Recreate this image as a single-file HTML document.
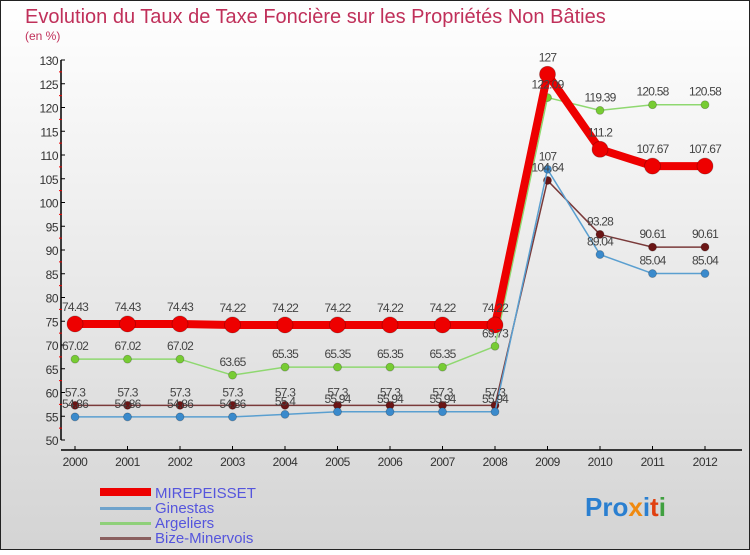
<!DOCTYPE html>
<html><head><meta charset="utf-8"><style>
html,body{margin:0;padding:0}
body{width:750px;height:550px;overflow:hidden;font-family:"Liberation Sans",sans-serif}
svg text{font-family:"Liberation Sans",sans-serif}
</style></head><body>
<svg id="chart" width="750" height="550" xmlns="http://www.w3.org/2000/svg">
<defs><linearGradient id="bg" x1="0" y1="0" x2="0" y2="1"><stop offset="0" stop-color="#ffffff"/><stop offset="1" stop-color="#d4d4d4"/></linearGradient></defs>
<rect x="0.5" y="0.5" width="749" height="549" fill="url(#bg)" stroke="#222"/>
<text x="25" y="23" font-size="20" fill="#c0305a">Evolution du Taux de Taxe Foncière sur les Propriétés Non Bâties</text>
<text x="25" y="40" font-size="12" fill="#c0305a">(en %)</text>
<g id="axes"></g><g id="series"></g><g id="labels"></g>
<g>
<rect x="100" y="488" width="51" height="8" fill="#ee0000"/>
<text x="155" y="498" font-size="15" fill="#5555dd">MIREPEISSET</text>
<rect x="100" y="507" width="51" height="3" fill="#6fa3cc"/>
<text x="155" y="513" font-size="15" fill="#5555dd">Ginestas</text>
<rect x="100" y="522" width="51" height="3" fill="#8fd07a"/>
<text x="155" y="528" font-size="15" fill="#5555dd">Argeliers</text>
<rect x="100" y="537" width="51" height="3" fill="#8a6060"/>
<text x="155" y="543" font-size="15" fill="#5555dd">Bize-Minervois</text>
</g>
<text x="585" y="516" font-size="26" font-weight="bold"><tspan fill="#2a7fd0">Pro</tspan><tspan fill="#f08a10">x</tspan><tspan fill="#2a7fd0">i</tspan><tspan fill="#e04010">t</tspan><tspan fill="#40a040">i</tspan></text>
</svg>
<script>
const years=[2000,2001,2002,2003,2004,2005,2006,2007,2008,2009,2010,2011,2012];
const yTicks=[50,55,60,65,70,75,80,85,90,95,100,105,110,115,120,125,130];
const mirepeisset=[74.43,74.43,74.43,74.22,74.22,74.22,74.22,74.22,74.22,127,111.2,107.67,107.67];
const ginestas=[54.86,54.86,54.86,54.86,55.4,55.94,55.94,55.94,55.94,107,89.04,85.04,85.04];
const argeliers=[67.02,67.02,67.02,63.65,65.35,65.35,65.35,65.35,69.73,122.09,119.39,120.58,120.58];
const bize=[57.3,57.3,57.3,57.3,57.3,57.3,57.3,57.3,57.3,104.64,93.28,90.61,90.61];
const NS="http://www.w3.org/2000/svg";
const xS=i=>75+i*52.5;
const yS=v=>440-(v-50)*4.75;
function mk(tag,attrs,parent){const e=document.createElementNS(NS,tag);for(const k in attrs)e.setAttribute(k,attrs[k]);parent.appendChild(e);return e;}
const axes=document.getElementById('axes'),ser=document.getElementById('series'),lab=document.getElementById('labels');
let a=mk('line',{x1:61,y1:yS(130),x2:61,y2:440,stroke:'#000','stroke-width':1.5},axes);


a=mk('line',{x1:61,y1:450,x2:742,y2:450,stroke:'#000','stroke-width':1.5},axes);


yTicks.forEach((t,i)=>{
 mk('line',{x1:61,y1:yS(t),x2:65,y2:yS(t),stroke:'#000'},axes);
 if(i<yTicks.length-1)mk('line',{x1:59,y1:yS(t+2.5),x2:62,y2:yS(t+2.5),stroke:'#e00'},axes);
 const tx=mk('text',{x:58,y:yS(t)+5,'text-anchor':'end','font-size':12,fill:'#333','letter-spacing':'-0.5'},axes);
 tx.textContent=t;
 
 
});
years.forEach((y,i)=>{
 mk('line',{x1:xS(i),y1:446,x2:xS(i),y2:450,stroke:'#000'},axes);
 const tx=mk('text',{x:xS(i),y:466,'text-anchor':'middle','font-size':12,fill:'#333','letter-spacing':'-0.5'},axes);
 tx.textContent=y;
 
 
});
function draw(vals,name,color,w,r,dot){
 const pts=vals.map((v,i)=>xS(i)+','+yS(v)).join(' ');
 const pl=mk('polyline',{points:pts,fill:'none',stroke:color,'stroke-width':w,'stroke-linejoin':'round'},ser);
 
 
 vals.forEach((v,i)=>{
  const c=mk('circle',{cx:xS(i),cy:yS(v),r:r,fill:dot,stroke:'rgba(0,0,0,0.25)','stroke-width':0.8},ser);
  
  
  const t=mk('text',{x:xS(i),y:yS(v)-(r+5),'text-anchor':'middle','font-size':12,fill:'#444','letter-spacing':'-0.8'},lab);
  t.textContent=v;
  
  
 });
}
draw(argeliers,'argeliers','#8fd870',1.5,4,'#77cc33');
draw(bize,'bize-minervois','#7a3a3a',1.5,4,'#6b1515');
draw(ginestas,'ginestas','#5a9fd0',1.5,4,'#3a8acc');
draw(mirepeisset,'mirepeisset','#ee0000',8,8,'#ee0000');
</script>
</body></html>
